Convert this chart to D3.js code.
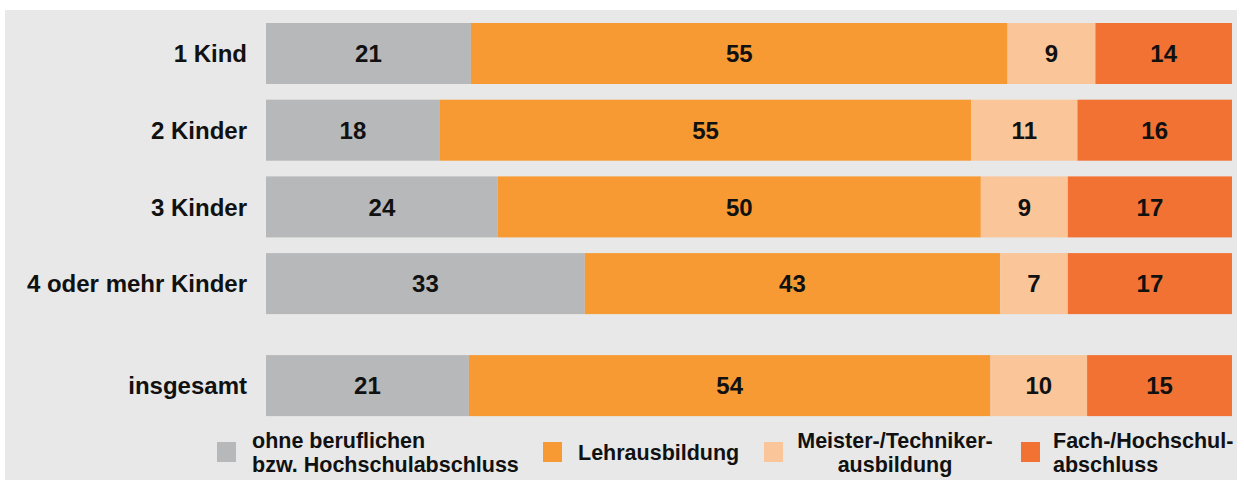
<!DOCTYPE html>
<html>
<head>
<meta charset="utf-8">
<script src="https://cdn.jsdelivr.net/npm/d3@7"></script>
<style>
  body { margin: 0; background: #fff; }
  svg text { font-family: "Liberation Sans", Arial, sans-serif; font-weight: bold; fill: #111; }
</style>
</head>
<body>
<div id="chart"></div>
<script>
// categories (rows) and series
const categories = ['1 Kind', '2 Kinder', '3 Kinder', '4 oder mehr Kinder', 'insgesamt'];
const series = ['ohne', 'lehre', 'meister', 'hochschule'];

const ohneValues = [21, 18, 24, 33, 21];
const lehreValues = [55, 55, 50, 43, 54];
const meisterValues = [9, 11, 9, 7, 10];
const hochschuleValues = [14, 16, 17, 17, 15];

const legendLines = [
    ['ohne beruflichen', 'bzw. Hochschulabschluss'],
    ['Lehrausbildung'],
    ['Meister-/Techniker-', 'ausbildung'],
    ['Fach-/Hochschul-', 'abschluss']
];

const colors = ['#b6b8ba', '#f79a33', '#fbc59a', '#f27234'];

const width = 1244;
const height = 480;

const svg = d3.select('#chart').append('svg')
    .attr('width', width)
    .attr('height', height);

// gray panel
svg.append('rect')
    .attr('x', 5).attr('y', 10)
    .attr('width', 1232).attr('height', 470)
    .attr('fill', '#e7e8e7');

const rows = categories.map((c, i) => ({
    cat: c,
    ohne: ohneValues[i],
    lehre: lehreValues[i],
    meister: meisterValues[i],
    hochschule: hochschuleValues[i]
}));

// row 1 sums to 99, so bars are expanded to full width
const stacked = d3.stack().keys(series).offset(d3.stackOffsetExpand)(rows);

const x = d3.scaleLinear().domain([0, 1]).range([266, 1232]);

// last row ("insgesamt") sits a bit further down
const rowIndex = d3.scaleLinear().domain([0, 1]).range([23, 99.7]);
const yTop = i => rowIndex(i === 4 ? i + 0.33 : i);
const barH = 61;

// category labels
svg.append('g').selectAll('text')
    .data(categories)
    .join('text')
    .attr('x', 247)
    .attr('y', (d, i) => yTop(i) + barH / 2)
    .attr('dy', '0.36em')
    .attr('text-anchor', 'end')
    .style('font-size', '24px')
    .text(d => d);

// bars
const layers = svg.append('g').selectAll('g')
    .data(stacked)
    .join('g')
    .attr('fill', (d, i) => colors[i]);

layers.selectAll('rect')
    .data(d => d)
    .join('rect')
    .attr('x', d => x(d[0]))
    .attr('y', (d, i) => yTop(i))
    .attr('width', d => x(d[1]) - x(d[0]))
    .attr('height', barH);

// value labels
const valueLayers = svg.append('g').selectAll('g')
    .data(stacked)
    .join('g');

valueLayers.selectAll('text')
    .data(d => d.map(p => ({ p, key: d.key })))
    .join('text')
    .attr('x', d => (x(d.p[0]) + x(d.p[1])) / 2)
    .attr('y', (d, i) => yTop(i) + barH / 2)
    .attr('dy', '0.36em')
    .attr('text-anchor', 'middle')
    .style('font-size', '24px')
    .text(d => d.p.data[d.key]);

// legend
const legendItems = [
    { sx: 217, tx: 252, anchor: 'start' },
    { sx: 543, tx: 578, anchor: 'start' },
    { sx: 764, tx: 895, anchor: 'middle' },
    { sx: 1021, tx: 1053, anchor: 'start' }
];

const legend = svg.append('g').selectAll('g')
    .data(legendItems)
    .join('g');

legend.append('rect')
    .attr('x', d => d.sx)
    .attr('y', 442)
    .attr('width', 19)
    .attr('height', 20)
    .attr('fill', (d, i) => colors[i]);

legend.each(function (d, i) {
    const lines = legendLines[i];
    const g = d3.select(this);
    lines.forEach((line, j) => {
        g.append('text')
            .attr('x', d.tx)
            .attr('y', lines.length === 1 ? 460 : 448 + j * 24)
            .attr('text-anchor', d.anchor)
            .style('font-size', '21.5px')
            .text(line);
    });
});
</script>
</body>
</html>
